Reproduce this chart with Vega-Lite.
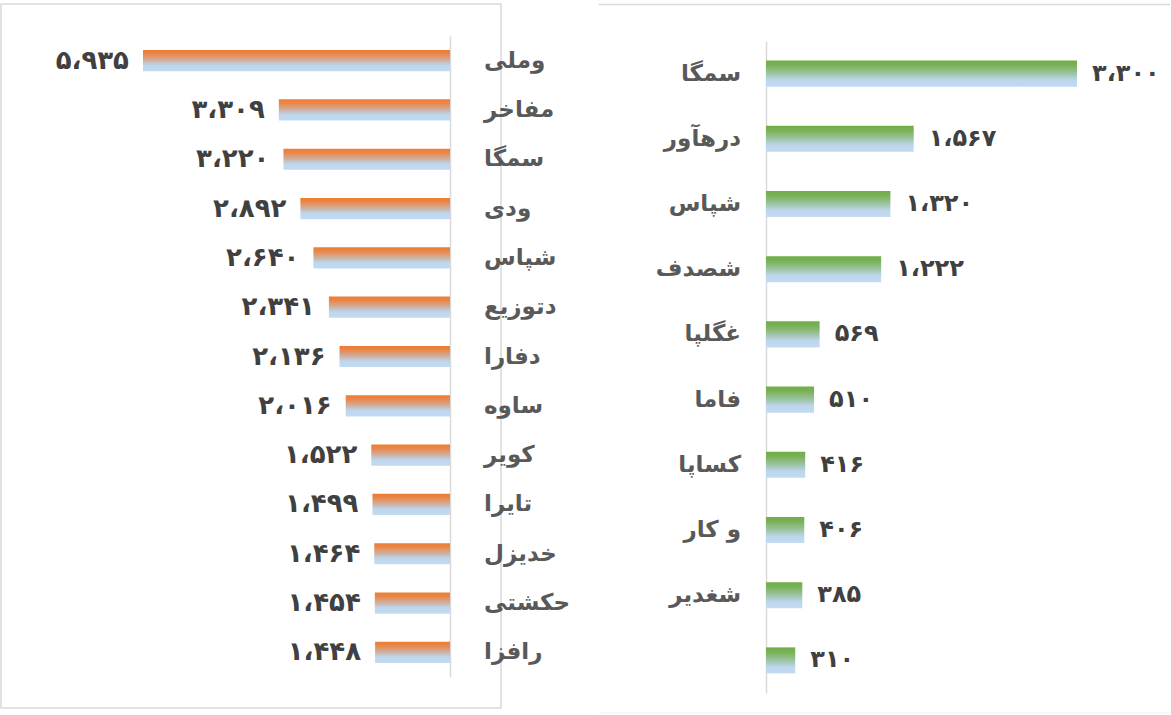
{
  "$schema": "https://vega.github.io/schema/vega-lite/v6.json",
  "padding": {"left": 0, "top": 3, "right": 0, "bottom": 0},
  "spacing": 97,
  "bounds": "flush",
  "background": "#ffffff",
  "config": {
    "view": {"stroke": "#d9d9d9", "strokeWidth": 1.5},
    "locale": {
      "number": {
        "decimal": "٫",
        "thousands": "،",
        "grouping": [3],
        "currency": ["", ""],
        "numerals": ["۰", "۱", "۲", "۳", "۴", "۵", "۶", "۷", "۸", "۹"]
      }
    },
    "text": {"font": "DejaVu Sans"}
  },
  "datasets": {
    "left": [
      {"name": "وملی", "value": 5935},
      {"name": "مفاخر", "value": 3309},
      {"name": "سمگا", "value": 3220},
      {"name": "ودی", "value": 2892},
      {"name": "شپاس", "value": 2640},
      {"name": "دتوزیع", "value": 2341},
      {"name": "دفارا", "value": 2136},
      {"name": "ساوه", "value": 2016},
      {"name": "کویر", "value": 1522},
      {"name": "تایرا", "value": 1499},
      {"name": "خدیزل", "value": 1464},
      {"name": "حکشتی", "value": 1454},
      {"name": "رافزا", "value": 1448}
    ],
    "right": [
      {"name": "سمگا", "value": 3300},
      {"name": "درهآور", "value": 1567},
      {"name": "شپاس", "value": 1320},
      {"name": "شصدف", "value": 1222},
      {"name": "غگلپا", "value": 569},
      {"name": "فاما", "value": 510},
      {"name": "کساپا", "value": 416},
      {"name": "و کار", "value": 406},
      {"name": "شغدیر", "value": 385},
      {"name": "", "value": 310}
    ]
  },
  "hconcat": [
    {
      "width": 500,
      "height": 704,
      "data": {"name": "left"},
      "encoding": {
        "y": {
          "field": "name",
          "type": "nominal",
          "sort": null,
          "scale": {"range": [32, 673], "paddingInner": 0.57, "paddingOuter": 0.285},
          "axis": {"orient": "right", "offset": -51, "labels": false, "ticks": false, "title": null, "grid": false, "domainColor": "#d9d9d9", "domainWidth": 1.5}
        }
      },
      "layer": [
        {
          "mark": {
            "type": "bar",
            "color": {
              "gradient": "linear",
              "x1": 0, "y1": 0, "x2": 0, "y2": 1,
              "stops": [
                {"offset": 0, "color": "#ED7D31"},
                {"offset": 0.18, "color": "#EB8646"},
                {"offset": 0.48, "color": "#CFAE9E"},
                {"offset": 0.72, "color": "#BDD6EE"},
                {"offset": 1, "color": "#C3DBF1"}
              ]
            }
          },
          "encoding": {
            "x": {
              "field": "value",
              "type": "quantitative",
              "scale": {"domain": [-986, 8680], "reverse": true, "nice": false, "zero": true},
              "axis": null
            }
          }
        },
        {
          "mark": {"type": "text", "align": "right", "baseline": "middle", "dx": -14, "fontSize": 26, "fontWeight": "bold", "color": "#404040"},
          "encoding": {
            "x": {"field": "value", "type": "quantitative"},
            "text": {"field": "value", "type": "quantitative", "format": ","}
          }
        },
        {
          "mark": {"type": "text", "align": "left", "baseline": "middle", "dx": 34, "fontSize": 23, "fontWeight": "bold", "color": "#595959"},
          "encoding": {
            "x": {"datum": 0},
            "text": {"field": "name", "type": "nominal"}
          }
        }
      ]
    },
    {
      "width": 572,
      "height": 709,
      "view": {"stroke": null},
      "data": {"name": "right"},
      "encoding": {
        "y": {
          "field": "name",
          "type": "nominal",
          "sort": null,
          "scale": {"range": [37, 689], "paddingInner": 0.6, "paddingOuter": 0.3},
          "axis": {"orient": "left", "offset": -168, "labels": false, "ticks": false, "title": null, "grid": false, "domainColor": "#d9d9d9", "domainWidth": 1.5}
        }
      },
      "resolve": {"axis": {"x": "independent"}},
      "layer": [
        {
          "mark": {
            "type": "bar",
            "color": {
              "gradient": "linear",
              "x1": 0, "y1": 0, "x2": 0, "y2": 1,
              "stops": [
                {"offset": 0, "color": "#70AD47"},
                {"offset": 0.18, "color": "#79B156"},
                {"offset": 0.5, "color": "#9DC4A4"},
                {"offset": 0.75, "color": "#BDD6EE"},
                {"offset": 1, "color": "#C3DBF1"}
              ]
            }
          },
          "encoding": {
            "x": {
              "field": "value",
              "type": "quantitative",
              "scale": {"domain": [-1783, 4287], "nice": false, "zero": true},
              "axis": {"orient": "top", "labels": false, "ticks": false, "title": null, "grid": false, "domainColor": "#d9d9d9", "domainWidth": 1.5}
            }
          }
        },
        {
          "mark": {"type": "text", "align": "left", "baseline": "middle", "dx": 15, "fontSize": 24, "fontWeight": "bold", "color": "#404040"},
          "encoding": {
            "x": {
              "field": "value",
              "type": "quantitative",
              "axis": {"orient": "bottom", "labels": false, "ticks": false, "title": null, "grid": false, "domainColor": "#d9d9d9", "domainWidth": 1.5}
            },
            "text": {"field": "value", "type": "quantitative", "format": ","}
          }
        },
        {
          "mark": {"type": "text", "align": "right", "baseline": "middle", "dx": -25, "fontSize": 23, "fontWeight": "bold", "color": "#595959"},
          "encoding": {
            "x": {"datum": 0, "axis": null},
            "text": {"field": "name", "type": "nominal"}
          }
        }
      ]
    }
  ]
}
